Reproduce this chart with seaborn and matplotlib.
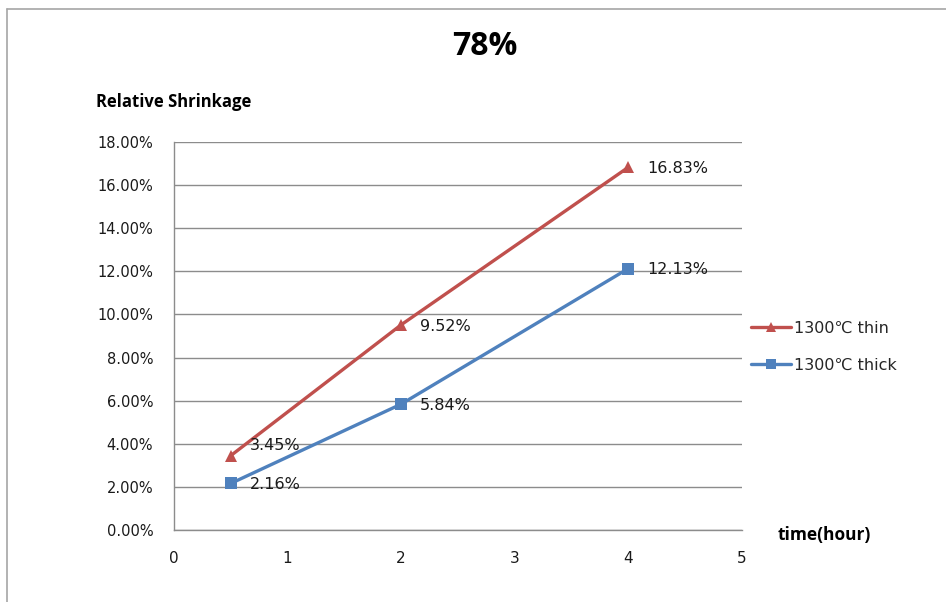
import matplotlib
matplotlib.use("Agg")
import matplotlib.pyplot as plt
from matplotlib.lines import Line2D
from matplotlib.ticker import FuncFormatter
import seaborn as sns
import pandas as pd

# Sintering time (hours) and relative shrinkage (%) at 1300 °C
hours = [0.5, 2, 4]
thin_shrinkage = [3.45, 9.52, 16.83]
thick_shrinkage = [2.16, 5.84, 12.13]
series_names = ["1300\u2103 thin", "1300\u2103 thick"]
y_ticks = [0, 2, 4, 6, 8, 10, 12, 14, 16, 18]
x_ticks = [0, 1, 2, 3, 4, 5]

df = pd.DataFrame({
    "hours": hours * 2,
    "shrinkage": thin_shrinkage + thick_shrinkage,
    "series": [series_names[0]] * len(hours) + [series_names[1]] * len(hours),
})

sns.set_theme(style="white")
plt.rcParams["font.family"] = ["DejaVu Sans", "Noto Sans CJK SC"]
bold_family = ["Open Sans", "DejaVu Sans"]

red = "#C0504D"
blue = "#4F81BD"
palette = {series_names[0]: red, series_names[1]: blue}
markers = {series_names[0]: "^", series_names[1]: "s"}

fig = plt.figure(figsize=(9.46, 6.02), dpi=100)
ax = fig.add_axes([0.1839, 0.1196, 0.6004, 0.6445])

sns.lineplot(data=df, x="hours", y="shrinkage", hue="series", style="series",
             palette=palette, markers=markers, dashes=False, linewidth=2.4,
             markersize=9, markeredgewidth=0, ax=ax, legend=False)

ax.set_xlim(0, 5)
ax.set_ylim(0, 18)
ax.set_xticks(x_ticks)
ax.set_yticks(y_ticks)
ax.yaxis.set_major_formatter(FuncFormatter(lambda v, _: f"{v:.2f}%"))
ax.grid(axis="y", color="#8c8c8c", linewidth=1.0)
ax.grid(axis="x", visible=False)
for side in ("top", "right"):
    ax.spines[side].set_visible(False)
for side in ("left", "bottom"):
    ax.spines[side].set_color("#8c8c8c")
    ax.spines[side].set_linewidth(1.0)
ax.tick_params(axis="both", length=6, width=1.0, color="#8c8c8c",
               direction="out", labelcolor="#1a1a1a")
ax.tick_params(axis="y", labelsize=10.5, pad=9)
ax.tick_params(axis="x", labelsize=11, pad=9)
ax.set_xlabel("")
ax.set_ylabel("")

# Value labels beside each point
label_offsets = {(0, 0): (13.5, 7)}
for s_idx, values in enumerate([thin_shrinkage, thick_shrinkage]):
    for p_idx, (x, y) in enumerate(zip(hours, values)):
        dx, dy = label_offsets.get((s_idx, p_idx), (13.5, -1))
        ax.annotate(f"{y:.2f}%", (x, y), xytext=(dx, dy), textcoords="offset points",
                    ha="left", va="center", fontsize=11.5, color="#1a1a1a")

fig.text(0.512, 0.922, "78%", ha="center", va="center", fontsize=23,
         fontweight="bold", family=bold_family, color="black")
fig.text(0.102, 0.830, "Relative Shrinkage", ha="left", va="center", fontsize=12,
         fontweight="bold", family=bold_family, color="black")
fig.text(0.822, 0.111, "time(hour)", ha="left", va="center", fontsize=12.5,
         fontweight="bold", family=bold_family, color="black")

handles = [Line2D([], [], color=palette[n], marker=markers[n], linewidth=2.4,
                  markersize=7, markeredgewidth=0) for n in series_names]
fig.legend(handles, series_names, loc="center left", bbox_to_anchor=(0.794, 0.424),
           frameon=False, fontsize=11.5, handlelength=2.5, handletextpad=0.2,
           labelspacing=1.35, borderpad=0, borderaxespad=0)

# Chart frame edges
fig.add_artist(Line2D([0.0074, 1.0], [0.985, 0.985], transform=fig.transFigure,
                      color="#a6a6a6", linewidth=1.2))
fig.add_artist(Line2D([0.0074, 0.0074], [0.0, 0.985], transform=fig.transFigure,
                      color="#a6a6a6", linewidth=1.2))

fig.savefig("out.png", dpi=100, facecolor="white")
